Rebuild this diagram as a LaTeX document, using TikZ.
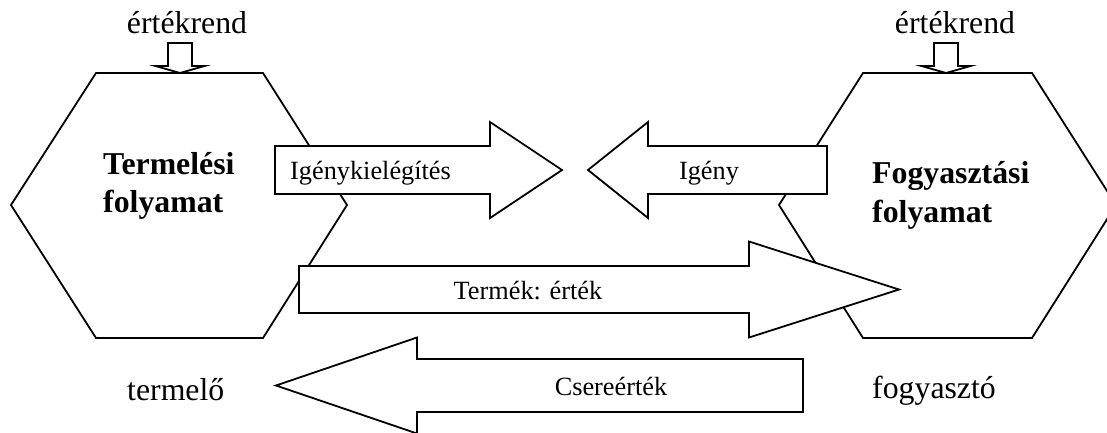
\documentclass[tikz,border=0pt]{standalone}
\usepackage{fontspec}
\setmainfont{Liberation Serif}
\begin{document}
\begin{tikzpicture}[x=1pt,y=-1pt, line join=miter,
 shapeline/.style={draw=black, fill=white, line width=1.8pt},
 big/.style={font=\fontsize{31.8}{38}\selectfont, inner sep=0pt},
 bigb/.style={font=\fontsize{31.8}{38}\selectfont\bfseries, inner sep=0pt},
 small/.style={font=\fontsize{26.3}{31}\selectfont, inner sep=0pt}]
\clip (0,0) rectangle (1107,432);
% hexagons
\draw[shapeline] (96,73) -- (263,73) -- (347,205) -- (263,338) -- (96,338) -- (11,205) -- cycle;
\draw[shapeline] (863,73) -- (1032,73) -- (1116,205) -- (1032,338) -- (863,338) -- (779,205) -- cycle;
% small downward arrows
\draw[shapeline] (168,43) -- (192,43) -- (192,66) -- (204.5,66) -- (180,73) -- (155.5,66) -- (168,66) -- cycle;
\draw[shapeline] (934,43) -- (958,43) -- (958,66) -- (970.5,66) -- (946,73) -- (921.5,66) -- (934,66) -- cycle;
% block arrows
\draw[shapeline] (275,146) -- (490,146) -- (490,122) -- (562,170) -- (490,218) -- (490,194) -- (275,194) -- cycle;
\draw[shapeline] (827,146) -- (648,146) -- (648,122) -- (588,170) -- (648,218) -- (648,194) -- (827,194) -- cycle;
\draw[shapeline] (299,266) -- (749,266) -- (749,241.5) -- (899,289.5) -- (749,337.5) -- (749,313) -- (299,313) -- cycle;
\draw[shapeline] (803,359) -- (417,359) -- (417,337.5) -- (276,385.5) -- (417,433.5) -- (417,412) -- (803,412) -- cycle;
% texts
\node[big, anchor=base] (ert1) at (187,33) {értékrend};
\node[big, anchor=base] (ert2) at (955,33) {értékrend};
\node[bigb, anchor=base west] (tp1) at (103,174) {Termelési};
\node[bigb, anchor=base west] (tp2) at (103,212) {folyamat};
\node[bigb, anchor=base west] (fp1) at (872,183) {Fogyasztási};
\node[bigb, anchor=base west] (fp2) at (872,222) {folyamat};
\node[big, anchor=base west] (termelo) at (127,400) {termelő};
\node[big, anchor=base west] (fogyaszto) at (872,398) {fogyasztó};
\node[small, anchor=base west] (ik) at (290,179) {Igénykielégítés};
\node[small, anchor=base] (ig) at (709,179) {Igény};
\node[small, anchor=base] (te) at (528,299) {Termék: érték};
\node[small, anchor=base] (cs) at (611,395) {Csereérték};
\end{tikzpicture}
\end{document}
